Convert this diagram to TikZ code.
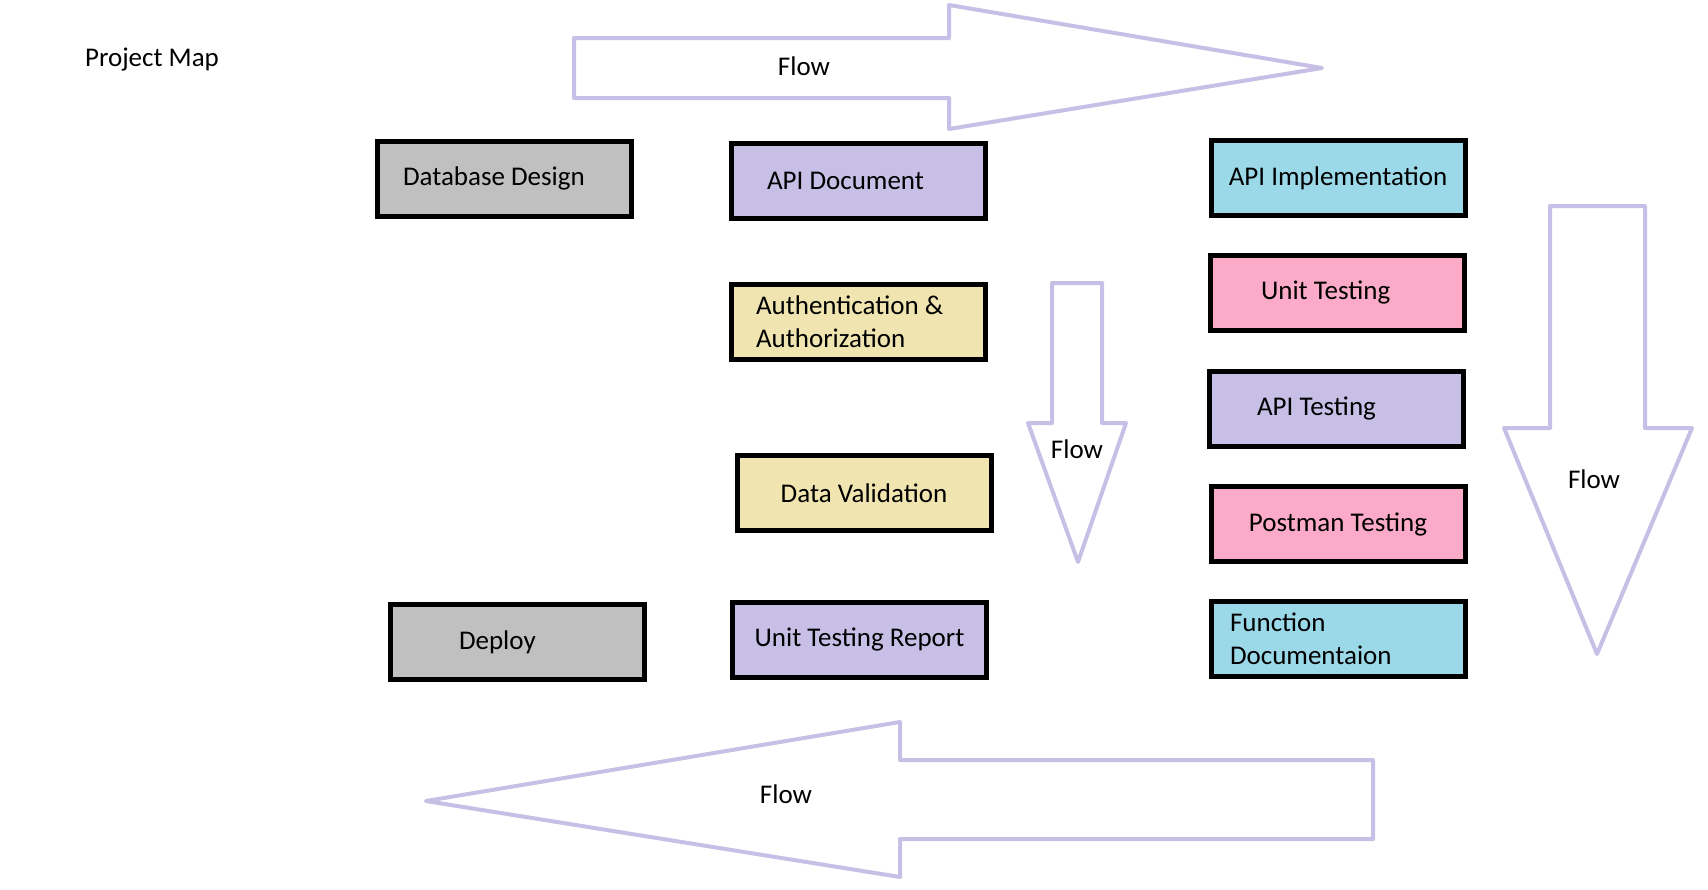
\documentclass[tikz,border=0pt]{standalone}
\usepackage{fontspec}
\setmainfont{Carlito}
\definecolor{boxgray}{HTML}{C0C0C0}
\definecolor{boxlav}{HTML}{C7BFE6}
\definecolor{boxsand}{HTML}{F0E4B0}
\definecolor{boxcyan}{HTML}{9BD9E9}
\definecolor{boxpink}{HTML}{FBABC8}
\definecolor{flowlav}{HTML}{C7BFE6}
\begin{document}
\begin{tikzpicture}[x=1pt,y=-1pt,
  every node/.style={font=\fontsize{27}{33}\selectfont},
  task/.style={draw=black,line width=5pt,minimum width=254pt,minimum height=75pt,inner sep=0pt},
  lefttext/.style={text width=#1,align=flush left},
  flow/.style={draw=flowlav,line width=4pt,fill=white,line join=round}]
\useasboundingbox (0,0) rectangle (1708,889);

\node (title) at (152,60) {Project Map};

% flow arrows
\draw[flow] (574,38) -- (949,38) -- (949,5) -- (1322,68) -- (949,129) -- (949,98) -- (574,98) -- cycle;
\node (flowtop) at (804,66) {Flow};

\draw[flow] (1052,283) -- (1102,283) -- (1102,423) -- (1126,423) -- (1078,562) -- (1028,423) -- (1052,423) -- cycle;
\node (flowmid) at (1077,449) {Flow};

\draw[flow] (1550,206) -- (1645,206) -- (1645,428) -- (1692,428) -- (1597,654) -- (1504,428) -- (1550,428) -- cycle;
\node (flowright) at (1594,479) {Flow};

\draw[flow] (1373,760) -- (900,760) -- (900,722) -- (426,801) -- (900,877) -- (900,839) -- (1373,839) -- cycle;
\node (flowbottom) at (786,794) {Flow};

% tasks
\node[task,fill=boxgray,lefttext=203pt] (db) at (504.5,178.5) {Database Design};
\node[task,fill=boxlav,lefttext=183pt] (apidoc) at (858.5,181) {API Document};
\node[task,fill=boxsand,lefttext=205pt] (auth) at (858.5,322) {Authentication \&\\Authorization};
\node[task,fill=boxsand] (dataval) at (864,493) {Data Validation};
\node[task,fill=boxlav] (utreport) at (859.5,639.5) {Unit Testing Report};
\node[task,fill=boxgray,lefttext=117pt] (deploy) at (517.5,642) {Deploy};

\node[task,fill=boxcyan] (apiimpl) at (1338,178) {API Implementation};
\node[task,fill=boxpink,lefttext=153pt] (unittest) at (1337.5,292.5) {Unit Testing};
\node[task,fill=boxlav,lefttext=159pt] (apitest) at (1336.5,408.5) {API Testing};
\node[task,fill=boxpink] (postman) at (1338,524) {Postman Testing};
\node[task,fill=boxcyan,lefttext=217pt] (funcdoc) at (1338.5,638.5) {Function\\Documentaion};
\end{tikzpicture}
\end{document}
